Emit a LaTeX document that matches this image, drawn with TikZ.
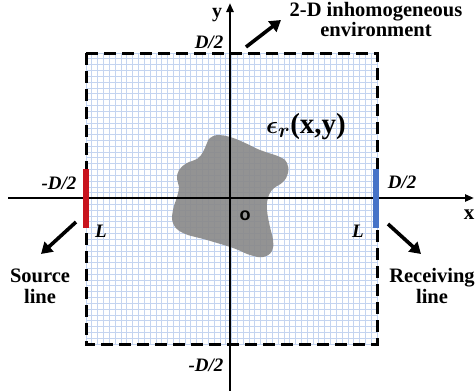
\documentclass[tikz,border=0pt]{standalone}
\usepackage{fontspec}
\usepackage{bm}
\setmainfont{Liberation Serif}
\newfontfamily\sansb{Liberation Sans}
\usetikzlibrary{arrows.meta}
\definecolor{gridc}{RGB}{196,212,240}
\definecolor{blobc}{RGB}{138,138,138}
\definecolor{srcred}{RGB}{200,20,30}
\definecolor{rcvblue}{RGB}{70,115,200}
\tikzset{
  axis/.style={line width=2.5pt,-{Triangle[length=9pt,width=7pt]}},
  bigarrow/.style={line width=3.6pt,-{Triangle[length=11pt,width=13pt]}},
  lbl/.style={font=\fontsize{20.5}{23}\selectfont\bfseries,align=center,inner sep=0pt},
  dlbl/.style={font=\fontsize{19}{22}\selectfont\bfseries\itshape,inner sep=0pt},
  gridline/.style={gridc,line width=0.65pt},
  border/.style={line width=3pt,dash pattern=on 12pt off 6pt}
}
\begin{document}
\begin{tikzpicture}[x=1pt,y=-1pt]
\useasboundingbox (0,0) rectangle (475,391);
% grid
\foreach \i in {0,...,50}{
  \draw[gridline] ({86+5.82*\i},53) -- ({86+5.82*\i},344);
  \draw[gridline] (86,{53+5.82*\i}) -- (377,{53+5.82*\i});
}
% scatterer
\fill[blobc,opacity=0.92] plot[smooth cycle,tension=0.7] coordinates{
 (210,138) (218,135) (230,137) (243,142) (260,150) (280,157) (287,163) (288,173)
 (283,182) (273,189) (268,198) (267,210) (270,227) (273,240) (272,251) (263,257)
 (250,255) (233,248) (207,240) (183,233) (173,223) (173,210) (177,197) (179,187)
 (177,179) (179,170) (187,163) (197,159) (203,152) (207,143)};
% border
\draw[border] (86,53) rectangle (377,344);
% axes
\coordinate (xs) at (8,198);
\coordinate (xe) at (474,198);
\coordinate (ys) at (230,391);
\coordinate (ye) at (230,3);
\draw[axis] (xs) -- (xe);
\draw[axis] (ys) -- (ye);
\node[font=\fontsize{20}{22}\selectfont\bfseries,inner sep=0pt] (ylab) at (217,15) {y};
\node[font=\fontsize{21}{24}\selectfont\bfseries,inner sep=0pt] (xlab) at (469,215) {x};
% source / receiving lines
\coordinate (s1) at (86,169);
\coordinate (s2) at (86,228);
\coordinate (r1) at (376,169);
\coordinate (r2) at (376,228);
\draw[srcred,line width=5.5pt] (s1) -- (s2);
\draw[rcvblue,line width=5.5pt] (r1) -- (r2);
% labels
\node[dlbl] (dtop) at (209,42) {D/2};
\node[dlbl] (dbot) at (206,365) {-D/2};
\node[dlbl] (dleft) at (59,183) {-D/2};
\node[dlbl] (dright) at (402,182) {D/2};
\node[dlbl] (lleft) at (101,231) {L};
\node[dlbl] (lright) at (358,231) {L};
\node[inner sep=0pt,font=\fontsize{18}{20}\selectfont\sansb\bfseries] (o) at (245,216) {o};
\node[inner sep=0pt,font=\fontsize{29}{32}\selectfont\bfseries] (eps) at (306,127) {$\bm{\epsilon_r}$(x,y)};
\node[lbl] (env) at (376,19) {2-D inhomogeneous\\[-3pt]environment};
\node[lbl] (src) at (40,286) {Source\\[-2pt]line};
\node[lbl] (rcv) at (432,286) {Receiving\\[-2pt]line};
% arrows
\coordinate (a1s) at (246,47);
\coordinate (a1e) at (281,20);
\coordinate (a2s) at (76,222);
\coordinate (a2e) at (41,254);
\coordinate (a3s) at (388,224);
\coordinate (a3e) at (421,254);
\draw[bigarrow] (a1s) -- (a1e);
\draw[bigarrow] (a2s) -- (a2e);
\draw[bigarrow] (a3s) -- (a3e);
\end{tikzpicture}
\end{document}
